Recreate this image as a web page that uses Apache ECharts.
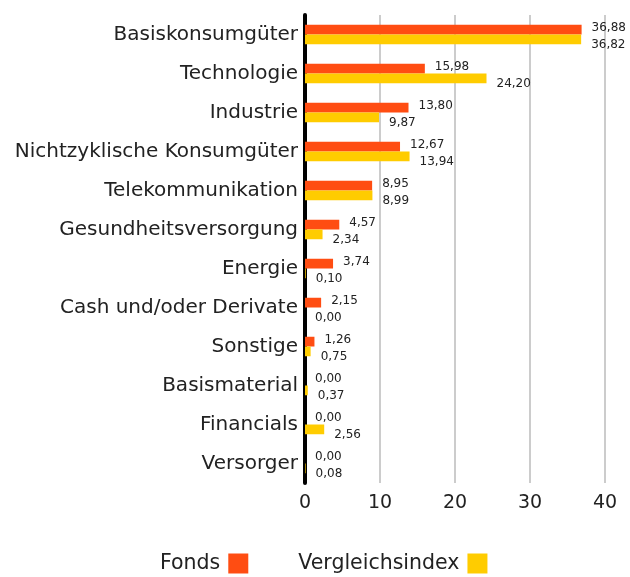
<!DOCTYPE html>
<html><head><meta charset="utf-8">
<script src="https://cdn.jsdelivr.net/npm/echarts@6/dist/echarts.min.js"></script>
<style>html,body{margin:0;padding:0;background:#fff}#c{width:630px;height:577px}</style>
</head><body><div id="c"></div>
<script>
const categories = ["Basiskonsumgüter","Technologie","Industrie","Nichtzyklische Konsumgüter","Telekommunikation","Gesundheitsversorgung","Energie","Cash und/oder Derivate","Sonstige","Basismaterial","Financials","Versorger"];
const fonds = [36.88,15.98,13.80,12.67,8.95,4.57,3.74,2.15,1.26,0.00,0.00,0.00];
const vergleich = [36.82,24.20,9.87,13.94,8.99,2.34,0.10,0.00,0.75,0.37,2.56,0.08];
const xTicks = [0,10,20,30,40];

const fmt = p => p.value.toFixed(2).replace('.', ',');
const chart = echarts.init(document.getElementById('c'));
const font = 'DejaVu Sans';
chart.setOption({
  animation:false,
  grid:{left:305,right:25,top:15,bottom:94,containLabel:false},
  legend:{
    top:548,left:155,align:'right',itemWidth:20,itemHeight:20,itemGap:50,
    icon:'rect',
    textStyle:{fontFamily:font,fontSize:20.5,color:'#222',padding:[0,3,0,0]},
    data:['Fonds','Vergleichsindex']
  },
  xAxis:{
    type:'value',min:xTicks[0],max:xTicks[xTicks.length-1],interval:10,
    axisLine:{show:false},axisTick:{show:false},
    splitLine:{show:true,lineStyle:{color:'#cccccc',width:2}},
    axisLabel:{fontFamily:font,fontSize:19,color:'#222',margin:11,
      formatter:v=>xTicks.includes(v)?String(v):''}
  },
  yAxis:{
    type:'category',data:categories,inverse:true,
    axisLine:{show:true,lineStyle:{color:'#000',width:4}},
    axisTick:{show:false},
    axisLabel:{fontFamily:font,fontSize:20,color:'#222',margin:7}
  },
  series:[
    {name:'Fonds',type:'bar',data:fonds,barGap:'0%',barCategoryGap:'50%',
     itemStyle:{color:'#FF4D12'},
     label:{show:true,position:'right',distance:10,offset:[0,-2],formatter:fmt,
       fontFamily:font,fontSize:12,color:'#222'}},
    {name:'Vergleichsindex',type:'bar',data:vergleich,
     itemStyle:{color:'#FFCC00'},
     label:{show:true,position:'right',distance:10,offset:[0,5],formatter:fmt,
       fontFamily:font,fontSize:12,color:'#222'}}
  ]
});
</script></body></html>
